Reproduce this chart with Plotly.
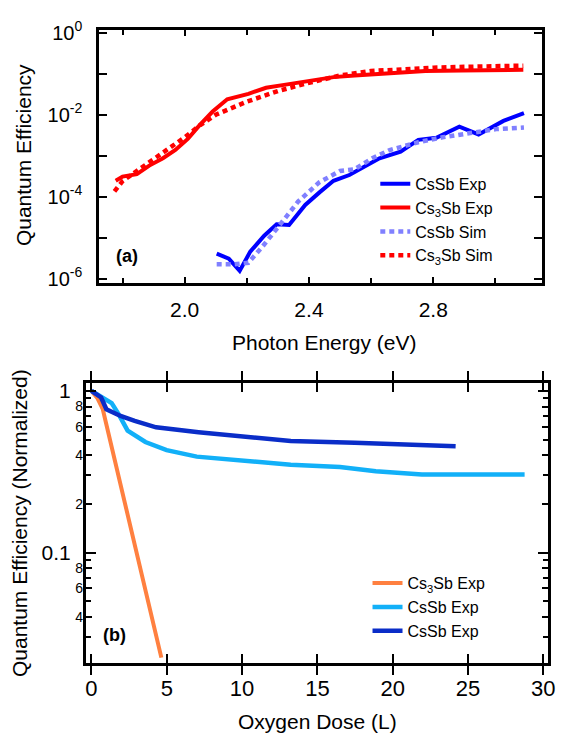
import plotly.graph_objects as go

# ---------------- Panel (a) data ----------------
csSb_exp_E = [2.103, 2.142, 2.177, 2.211, 2.256, 2.296, 2.336, 2.388, 2.433, 2.479,
              2.53, 2.581, 2.627, 2.695, 2.752, 2.81, 2.884, 2.946, 3.026, 3.092]
csSb_exp_QE = [4.07e-6, 3.09e-6, 1.55e-6, 4.57e-6, 1.12e-5, 2.14e-5, 2.04e-5, 6.31e-5, 1.26e-4, 2.45e-4,
               3.39e-4, 5.62e-4, 8.7e-4, 1.26e-3, 2.45e-3, 2.75e-3, 5.13e-3, 3.31e-3, 7.08e-3, 1.1e-2]

cs3Sb_exp_E = [1.778, 1.80, 1.846, 1.886, 1.93, 1.97, 2.01, 2.046, 2.09, 2.137, 2.205,
               2.262, 2.32, 2.40, 2.479, 2.547, 2.66, 2.775, 2.89, 3.003, 3.09]
cs3Sb_exp_QE = [2.45e-4, 3.1e-4, 3.55e-4, 5.75e-4, 8.7e-4, 1.38e-3, 2.57e-3, 5.37e-3, 1.2e-2, 2.4e-2, 3.24e-2,
                4.57e-2, 5.37e-2, 6.76e-2, 8.3e-2, 9.1e-2, 0.106, 0.117, 0.120, 0.123, 0.126]

csSb_sim_E = [2.103, 2.16, 2.205, 2.25, 2.308, 2.365, 2.433, 2.50, 2.547, 2.604,
              2.66, 2.752, 2.83, 2.923, 3.003, 3.092]
csSb_sim_QE = [2.24e-6, 2.24e-6, 2.45e-6, 6.03e-6, 2.14e-5, 7.59e-5, 2.24e-4, 4.27e-4, 4.68e-4, 8.7e-4,
               1.38e-3, 2.14e-3, 2.82e-3, 3.72e-3, 4.47e-3, 4.9e-3]

cs3Sb_sim_E = [1.774, 1.80, 1.85, 1.90, 1.95, 2.0, 2.05, 2.1, 2.2, 2.3, 2.4, 2.5,
               2.6, 2.7, 2.8, 2.9, 3.0, 3.09]
cs3Sb_sim_QE = [1.35e-4, 2.4e-4, 4.47e-4, 8.3e-4, 1.48e-3, 2.82e-3, 5.62e-3, 1.0e-2, 2.09e-2, 3.8e-2, 6.03e-2, 9.1e-2,
                0.117, 0.132, 0.141, 0.148, 0.151, 0.158]

# ---------------- Panel (b) data ----------------
cs3Sb_dose = [0.0, 0.4, 0.75, 4.64]
cs3Sb_norm = [1.0, 0.9, 0.77, 0.0224]

csSb1_dose = [0.0, 0.64, 1.34, 1.81, 2.40, 3.58, 4.99, 6.99, 10.88, 13.23, 16.5, 18.88, 21.94, 28.76]
csSb1_norm = [1.0, 0.92, 0.84, 0.716, 0.568, 0.483, 0.43, 0.392, 0.361, 0.349, 0.338, 0.318, 0.304, 0.304]

csSb2_dose = [0.0, 0.64, 0.99, 1.93, 2.87, 4.29, 7.11, 10.4, 13.23, 17.47, 21.7, 24.18]
csSb2_norm = [1.0, 0.91, 0.77, 0.70, 0.653, 0.595, 0.555, 0.518, 0.49, 0.478, 0.466, 0.455]

# ---------------- tick definitions ----------------
a_xtick_vals = [2.0, 2.4, 2.8]
a_xtick_text = ["2.0", "2.4", "2.8"]
a_xminor_vals = [1.8, 2.2, 2.6, 3.0]
a_ytick_vals = [1, 1e-2, 1e-4, 1e-6]
a_ytick_text = ["10<sup>0</sup>", "10<sup>-2</sup>", "10<sup>-4</sup>", "10<sup>-6</sup>"]
a_yminor_vals = [1e-1, 1e-3, 1e-5]

b_xtick_vals = [0, 5, 10, 15, 20, 25, 30]
b_ydecade_vals = [1, 0.1]
b_ydecade_text = ["1", "0.1"]
b_ytick_vals = [0.8, 0.6, 0.4, 0.2, 0.08, 0.06, 0.04]
b_ytick_text = ["8", "6", "4", "2", "8", "6", "4"]
b_yminor_vals = [0.9, 0.7, 0.5, 0.3, 0.09, 0.07, 0.05, 0.03]

FONT = "Arial, Liberation Sans, sans-serif"

fig = go.Figure()

fig.add_trace(go.Scatter(x=csSb_exp_E, y=csSb_exp_QE, mode="lines", name="CsSb Exp",
                         line=dict(color="#0000ff", width=4), xaxis="x", yaxis="y", legend="legend"))
fig.add_trace(go.Scatter(x=cs3Sb_exp_E, y=cs3Sb_exp_QE, mode="lines", name="Cs<sub>3</sub>Sb Exp",
                         line=dict(color="#ff0000", width=4), xaxis="x", yaxis="y", legend="legend"))
fig.add_trace(go.Scatter(x=csSb_sim_E, y=csSb_sim_QE, mode="lines", name="CsSb Sim",
                         line=dict(color="#8080ff", width=4.5, dash="5px,4px"), xaxis="x", yaxis="y", legend="legend"))
fig.add_trace(go.Scatter(x=cs3Sb_sim_E, y=cs3Sb_sim_QE, mode="lines", name="Cs<sub>3</sub>Sb Sim",
                         line=dict(color="#ff0000", width=4.5, dash="5px,4px"), xaxis="x", yaxis="y", legend="legend"))

fig.add_trace(go.Scatter(x=cs3Sb_dose, y=cs3Sb_norm, mode="lines", name="Cs<sub>3</sub>Sb Exp",
                         line=dict(color="#ff8040", width=4), xaxis="x2", yaxis="y2", legend="legend2"))
fig.add_trace(go.Scatter(x=csSb1_dose, y=csSb1_norm, mode="lines", name="CsSb Exp",
                         line=dict(color="#12b0f8", width=4.5), xaxis="x2", yaxis="y2", legend="legend2"))
# drawn on the overlaying decade axis (identical range/domain to y2)
fig.add_trace(go.Scatter(x=csSb2_dose, y=csSb2_norm, mode="lines", name="CsSb Exp",
                         line=dict(color="#0a2dc8", width=4.5), xaxis="x2", yaxis="y3", legend="legend2"))

axcommon = dict(showline=True, linecolor="black", linewidth=3, mirror="allticks",
                ticks="inside", tickcolor="black", tickwidth=2, showgrid=False, zeroline=False)

B_YRANGE = [-1.68, 0.046]
B_YDOMAIN = [0.1013, 0.4863]

fig.update_layout(
    width=563, height=743,
    margin=dict(l=0, r=0, t=0, b=0),
    paper_bgcolor="white", plot_bgcolor="white",
    font=dict(family=FONT, color="black"),
    xaxis=dict(domain=[0.1785, 0.9742], anchor="y", range=[1.725, 3.149],
               tickmode="array", tickvals=a_xtick_vals, ticktext=a_xtick_text,
               minor=dict(tickmode="array", tickvals=a_xminor_vals, ticks="inside", ticklen=5,
                          tickcolor="black", tickwidth=2, showgrid=False),
               ticklen=6, tickfont=dict(size=21), ticklabelstandoff=6, **axcommon),
    yaxis=dict(domain=[0.6254, 0.9744], anchor="x", type="log", range=[-6.095, 0.08],
               tickmode="array", tickvals=a_ytick_vals, ticktext=a_ytick_text,
               minor=dict(tickmode="array", tickvals=a_yminor_vals, ticks="inside", ticklen=8,
                          tickcolor="black", tickwidth=2, showgrid=False),
               ticklen=8, tickfont=dict(size=20), ticklabelstandoff=10, **axcommon),
    xaxis2=dict(domain=[0.1545, 0.9858], anchor="y2", range=[-0.37, 30.32],
                tickmode="array", tickvals=b_xtick_vals,
                ticklen=9, tickfont=dict(size=22), ticklabelstandoff=4, **axcommon),
    yaxis2=dict(domain=B_YDOMAIN, anchor="x2", type="log", range=B_YRANGE,
                tickmode="array", tickvals=b_ytick_vals, ticktext=b_ytick_text,
                minor=dict(tickmode="array", tickvals=b_yminor_vals, ticks="inside", ticklen=5,
                           tickcolor="black", tickwidth=2, showgrid=False),
                ticklen=6, tickfont=dict(size=14), ticklabelstandoff=-3, **axcommon),
    yaxis3=dict(overlaying="y2", anchor="x2", side="left", type="log", range=B_YRANGE,
                tickmode="array", tickvals=b_ydecade_vals, ticktext=b_ydecade_text,
                ticklen=10, tickfont=dict(size=21), ticklabelstandoff=8, **axcommon),
    legend=dict(x=0.675, y=0.785, xanchor="left", yanchor="top", bgcolor="rgba(0,0,0,0)",
                font=dict(size=16, family=FONT), tracegroupgap=0, itemwidth=30),
    legend2=dict(x=0.661, y=0.2342, xanchor="left", yanchor="top", bgcolor="rgba(0,0,0,0)",
                 font=dict(size=16, family=FONT), tracegroupgap=0, itemwidth=30),
    showlegend=True,
)

annots = [
    dict(text="Quantum Efficiency", x=24 / 563, y=1 - 148 / 743, textangle=-90, font=dict(size=21)),
    dict(text="Photon Energy (eV)", x=328 / 563, y=1 - 340 / 743, font=dict(size=21)),
    dict(text="Quantum Efficiency (Normalized)", x=20 / 563, y=1 - 525 / 743, textangle=-90, font=dict(size=21)),
    dict(text="Oxygen Dose (L)", x=321 / 563, y=1 - 728 / 743, font=dict(size=21)),
    dict(text="<b>(a)</b>", x=129 / 563, y=1 - 251 / 743, font=dict(size=18)),
    dict(text="<b>(b)</b>", x=116 / 563, y=1 - 640 / 743, font=dict(size=18)),
]
for a in annots:
    a.update(xref="paper", yref="paper", showarrow=False, xanchor="center", yanchor="middle")
fig.update_layout(annotations=annots)

fig.write_html("out.html")
